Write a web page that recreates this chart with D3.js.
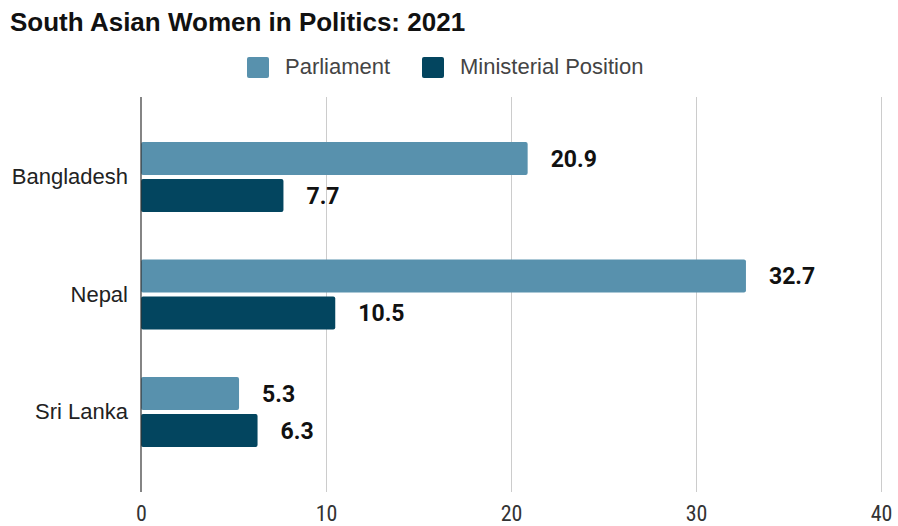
<!DOCTYPE html>
<html>
<head>
<meta charset="utf-8">
<script src="https://cdn.jsdelivr.net/npm/d3@7/dist/d3.min.js"></script>
<style>
  html, body { margin: 0; padding: 0; background: #fff; }
  svg { display: block; }
</style>
</head>
<body>
<svg id="chart" width="898" height="526"></svg>
<script>
// Share of women, in percent
const countries = ["Bangladesh", "Nepal", "Sri Lanka"];
const parliament = [20.9, 32.7, 5.3];
const ministerial = [7.7, 10.5, 6.3];
const seriesNames = ["Parliament", "Ministerial Position"];
const seriesColors = ["#5891ad", "#03455f"];
const xTicks = [0, 10, 20, 30, 40];

const svg = d3.select("#chart");
const plot = { left: 141, right: 881, top: 97, bottom: 492 };

const x = d3.scaleLinear().domain([0, 40]).range([plot.left, plot.right]);
const y = d3.scaleBand().domain(countries).range([plot.top, plot.bottom]).paddingInner(0).paddingOuter(0.181);

const barH = 33, gap = 4;

// Title
svg.append("text")
  .attr("x", 10).attr("y", 31)
  .attr("font-family", "Liberation Sans, Arial, sans-serif")
  .attr("font-weight", "bold").attr("font-size", 26)
  .attr("fill", "#111")
  .text("South Asian Women in Politics: 2021");

// Legend
const legendX = [247, 422];
seriesNames.forEach((name, i) => {
  svg.append("rect")
    .attr("x", legendX[i]).attr("y", 57).attr("width", 22).attr("height", 21)
    .attr("rx", 2).attr("fill", seriesColors[i]);
  svg.append("text")
    .attr("x", legendX[i] + 38).attr("y", 73.5)
    .attr("font-family", "Liberation Sans, Arial, sans-serif")
    .attr("font-size", 22).attr("fill", "#444")
    .text(name);
});

// Vertical gridlines
svg.append("g").selectAll("line")
  .data(xTicks.slice(1))
  .join("line")
  .attr("x1", d => x(d) + 0.5).attr("x2", d => x(d) + 0.5)
  .attr("y1", plot.top).attr("y2", plot.bottom)
  .attr("stroke", "#cccccc").attr("stroke-width", 1);

// Bars and value labels
const rows = countries.map((c, i) => ({ c, vals: [parliament[i], ministerial[i]] }));
const g = svg.append("g");
rows.forEach(r => {
  const mid = y(r.c) + y.bandwidth() / 2;
  r.vals.forEach((v, j) => {
    const yy = j === 0 ? mid - gap / 2 - barH : mid + gap / 2;
    g.append("rect")
      .attr("x", x(0)).attr("y", yy)
      .attr("width", x(v) - x(0)).attr("height", barH)
      .attr("rx", 2).attr("fill", seriesColors[j]);
    g.append("text")
      .attr("x", x(v) + 23).attr("y", yy + barH / 2)
      .attr("dy", "0.36em")
      .attr("font-family", "Roboto, sans-serif")
      .attr("font-weight", "bold").attr("font-size", 23)
      .attr("fill", "#111")
      .text(v.toFixed(1));
  });
});

// Baseline
svg.append("line")
  .attr("x1", x(0)).attr("x2", x(0))
  .attr("y1", plot.top).attr("y2", plot.bottom)
  .attr("stroke", "#333").attr("stroke-width", 1.2);

// Category labels
const yAxis = d3.axisLeft(y).tickSize(0).tickPadding(13);
const ya = svg.append("g").attr("transform", `translate(${plot.left},0)`).call(yAxis);
ya.select(".domain").remove();
ya.selectAll("text")
  .attr("font-family", "Liberation Sans, Arial, sans-serif")
  .attr("font-size", 22).attr("fill", "#222");

// X axis tick labels
const xAxis = d3.axisBottom(x).tickValues(xTicks).tickSize(0).tickPadding(13);
const xa = svg.append("g").attr("transform", `translate(0,${plot.bottom})`).call(xAxis);
xa.select(".domain").remove();
xa.selectAll("text")
  .attr("font-family", "Liberation Sans Narrow, Roboto Condensed, sans-serif")
  .attr("font-size", 22).attr("fill", "#333");
</script>
</body>
</html>
